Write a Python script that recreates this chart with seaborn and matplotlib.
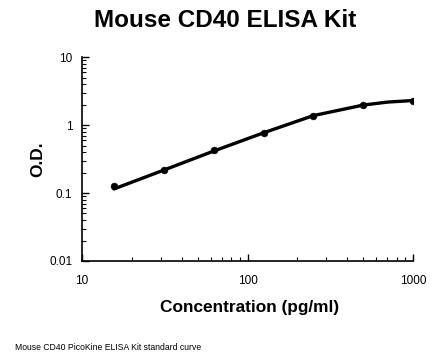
import numpy as np
import pandas as pd
import matplotlib
matplotlib.use('Agg')
import matplotlib.pyplot as plt
import seaborn as sns
from matplotlib.ticker import LogLocator, FixedLocator, NullFormatter

concentration = [15.6, 31.25, 62.5, 125, 250, 500, 1000]
od_values = [0.129, 0.222, 0.423, 0.77, 1.38, 1.97, 2.30]

# Curva di fit
curve_x = [15.6, 31.25, 62.5, 125, 250, 500, 700, 1000]
curve_y = [0.115, 0.218, 0.415, 0.77, 1.38, 1.97, 2.18, 2.30]

sns.set_theme(style='white')
plt.rcParams['font.family'] = ['Liberation Sans', 'DejaVu Sans']
plt.rcParams['text.color'] = 'black'
plt.rcParams['axes.labelcolor'] = 'black'

fig = plt.figure(figsize=(4.46, 3.64), dpi=100)
ax = fig.add_axes([0.184, 0.283, 0.742, 0.560])

df_points = pd.DataFrame({'conc': concentration, 'od': od_values})
df_curve = pd.DataFrame({'conc': curve_x, 'od': curve_y})

sns.lineplot(data=df_curve, x='conc', y='od', color='black', linewidth=2.4, ax=ax)
sns.scatterplot(data=df_points, x='conc', y='od', color='black', s=24, edgecolor='black', ax=ax, zorder=3)

ax.set_xscale('log')
ax.set_yscale('log')
ax.set_xlim(10, 1000)
ax.set_ylim(0.01, 10)

ax.xaxis.set_major_locator(FixedLocator([10, 100, 1000]))
ax.yaxis.set_major_locator(FixedLocator([0.01, 0.1, 1, 10]))
ax.set_xticklabels(['10', '100', '1000'])
ax.set_yticklabels(['0.01', '0.1', '1', '10'])
ax.xaxis.set_minor_locator(LogLocator(base=10, subs=np.arange(2, 10)))
ax.yaxis.set_minor_locator(LogLocator(base=10, subs=np.arange(2, 10)))
ax.xaxis.set_minor_formatter(NullFormatter())
ax.yaxis.set_minor_formatter(NullFormatter())

ax.tick_params(axis='both', which='major', direction='in', length=5, width=1, labelsize=8.5,
               colors='black', bottom=True, left=True)
ax.tick_params(axis='x', which='major', pad=10)
ax.tick_params(axis='y', which='major', pad=7)
ax.tick_params(axis='both', which='minor', direction='in', length=3, width=0.8,
               colors='black', bottom=True, left=True)

for side in ['top', 'right']:
    ax.spines[side].set_visible(False)
for side in ['left', 'bottom']:
    ax.spines[side].set_color('black')
    ax.spines[side].set_linewidth(1.2)

ax.set_xlabel('Concentration (pg/ml)', fontsize=12.4, fontweight='bold', va='center')
ax.set_ylabel('O.D.', fontsize=12.4, fontweight='bold', va='center')
ax.xaxis.set_label_coords(0.506, -0.23)
ax.yaxis.set_label_coords(-0.133, 0.5)

fig.text(0.504, 0.945, 'Mouse CD40 ELISA Kit', ha='center', va='center',
         fontsize=17.5, fontweight='bold')
fig.text(0.034, 0.044, 'Mouse CD40 PicoKine ELISA Kit standard curve', ha='left', va='center',
         fontsize=6.2)

plt.savefig('out.png', dpi=100)
